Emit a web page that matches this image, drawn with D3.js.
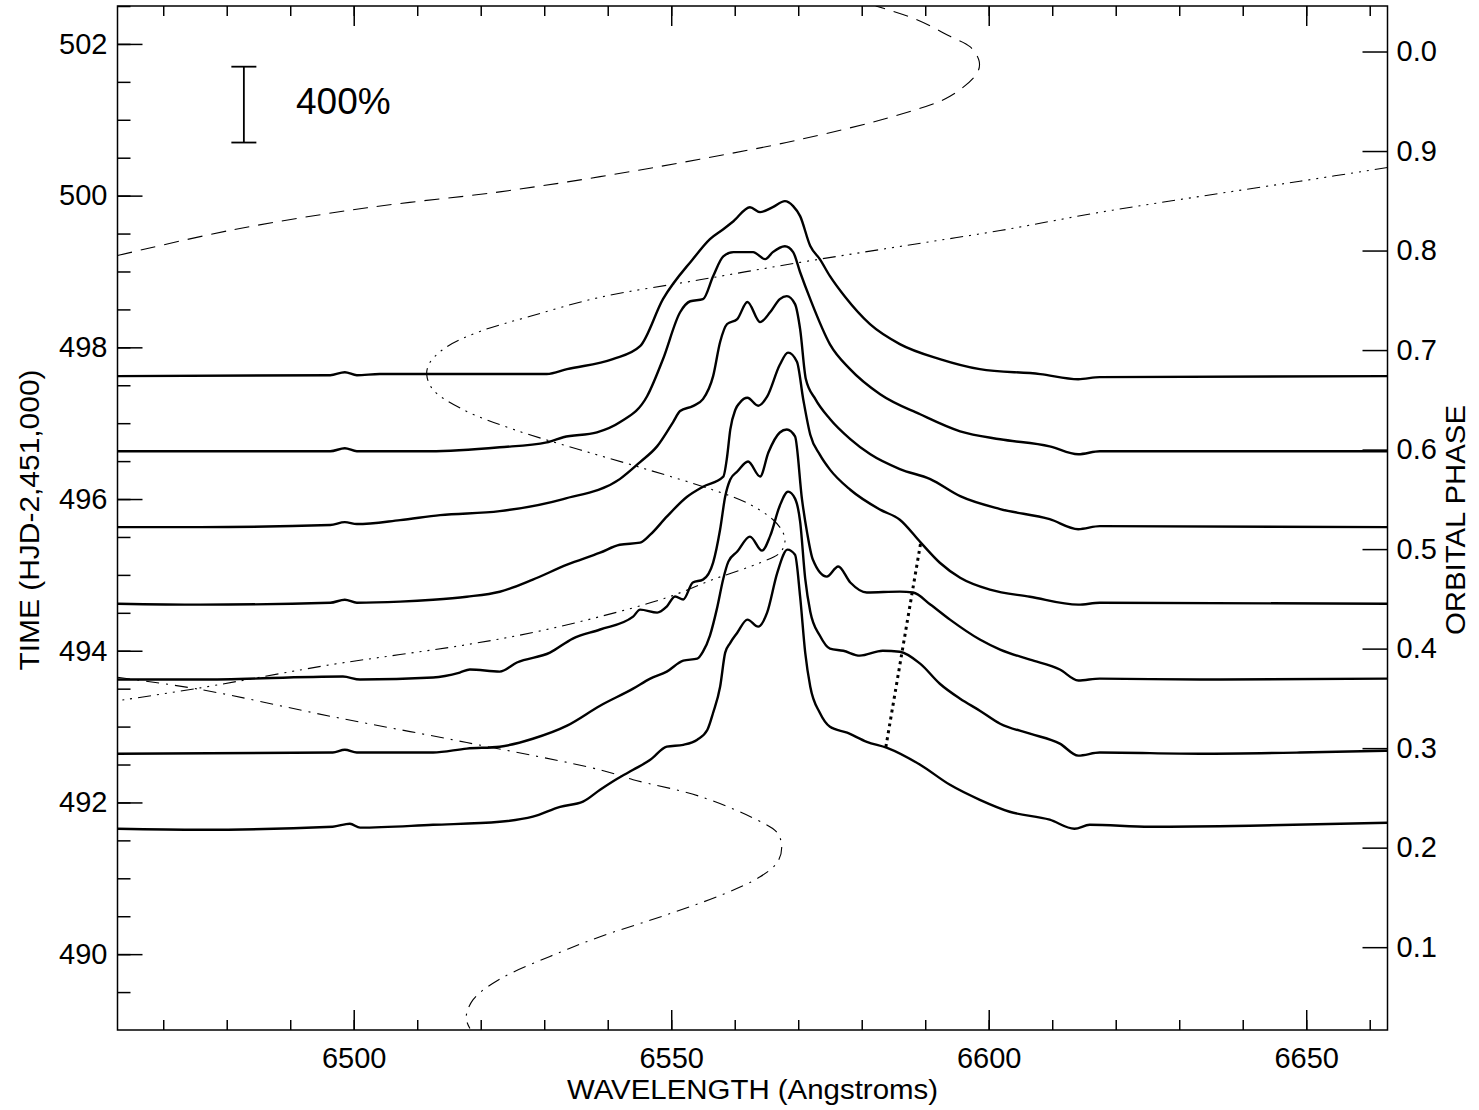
<!DOCTYPE html>
<html>
<head>
<meta charset="utf-8">
<script src="https://cdn.jsdelivr.net/npm/d3@7"></script>
<style>
  html, body { margin: 0; padding: 0; background: #fff; }
  svg { display: block; }
  text { font-family: "Liberation Sans", Arial, Helvetica, sans-serif; fill: #000; }
</style>
</head>
<body>
<svg id="chart" width="1479" height="1110"></svg>
<script>
// ---------------------------------------------------------------
// H-alpha profiles stacked by observation time (HJD-2,451,000)
// ---------------------------------------------------------------

// Axis ranges
const waveDomain = [6462.8, 6662.8];
const timeDomain = [489.0, 502.5];
const waveMajorTicks = [6500, 6550, 6600, 6650];
const waveMinorTicks = d3.range(6470, 6663, 10);
const timeMajorTicks = [490, 492, 494, 496, 498, 500, 502];
const timeMinorTicks = d3.range(489.5, 502.6, 0.5);

// Orbital ephemeris for the right-hand axis
const orbitalPeriod = 13.12;     // days
const phaseZeroTime = 501.90;    // HJD-2,451,000 at phase 0
const phaseTicks = [0.1, 0.2, 0.3, 0.4, 0.5, 0.6, 0.7, 0.8, 0.9, 1.0];
const phaseTickLabels = ["0.1", "0.2", "0.3", "0.4", "0.5", "0.6", "0.7", "0.8", "0.9", "0.0"];

// Flux scale: 400% of the continuum spans one day on the time axis
const scaleBarPercent = 400;
const scaleBarWave = 6482.7;
const scaleBarTop = 501.7;

// Observation times (continuum level of each profile)
const obsTimes = [491.64, 492.63, 493.62, 494.62, 495.63, 496.63, 497.62];

// Profiles: wavelength (Angstrom) and flux normalised to the continuum
const wave1 = [6462.8, 6475.8, 6496.7, 6499.4, 6501.0, 6512.5, 6523.0, 6528.2, 6532.5, 6536.1, 6538.8, 6541.5, 6544.0, 6546.7, 6549.3, 6551.9, 6554.1, 6555.7, 6556.6, 6557.7, 6558.5, 6559.3, 6560.4, 6562.0, 6563.7, 6565.1, 6566.7, 6568.3, 6569.5, 6570.3, 6571.1, 6571.9, 6573.4, 6575.0, 6577.7, 6580.8, 6584.0, 6589.2, 6593.9, 6598.6, 6603.3, 6609.6, 6613.5, 6615.9, 6625.4, 6641.1, 6662.8];
const flux1 = [1.05, 1.00, 1.16, 1.32, 1.11, 1.26, 1.42, 1.69, 2.21, 2.48, 3.11, 3.69, 4.16, 4.69, 5.38, 5.48, 5.75, 6.27, 7.17, 8.54, 10.34, 10.86, 11.39, 12.08, 11.71, 12.45, 14.55, 15.77, 15.50, 13.29, 10.34, 8.54, 7.17, 6.43, 6.12, 5.64, 5.32, 4.43, 3.37, 2.58, 1.95, 1.53, 1.05, 1.26, 1.16, 1.21, 1.37];

const wave2 = [6462.8, 6496.7, 6498.6, 6500.5, 6512.5, 6517.8, 6523.0, 6528.2, 6533.6, 6538.8, 6544.0, 6546.7, 6549.3, 6551.9, 6554.1, 6555.0, 6556.1, 6557.2, 6558.2, 6559.0, 6560.4, 6562.4, 6564.3, 6565.6, 6567.1, 6568.4, 6569.5, 6570.3, 6571.1, 6571.9, 6573.4, 6575.0, 6577.1, 6579.7, 6583.3, 6586.0, 6589.2, 6592.3, 6595.5, 6598.6, 6601.8, 6606.5, 6611.2, 6614.1, 6617.5, 6633.3, 6649.0, 6662.8];
const flux2 = [1.05, 1.11, 1.26, 1.11, 1.11, 1.32, 1.42, 1.84, 2.53, 3.58, 4.48, 5.01, 5.38, 5.96, 6.06, 6.43, 7.28, 8.70, 10.28, 11.18, 11.71, 12.50, 11.76, 12.55, 14.13, 14.87, 14.50, 13.29, 10.28, 8.54, 7.28, 6.59, 6.48, 6.22, 6.48, 6.43, 5.80, 4.74, 3.95, 3.32, 2.63, 2.11, 1.58, 0.95, 1.11, 1.05, 1.11, 1.21];

const wave3 = [6462.8, 6475.8, 6498.3, 6501.0, 6512.5, 6516.7, 6518.3, 6523.0, 6525.7, 6530.9, 6534.5, 6538.8, 6544.0, 6545.1, 6547.8, 6549.3, 6550.6, 6551.9, 6553.4, 6555.0, 6556.6, 6557.7, 6558.5, 6559.3, 6560.4, 6562.1, 6564.0, 6565.3, 6567.1, 6568.2, 6569.5, 6570.6, 6571.4, 6572.3, 6574.5, 6576.3, 6578.2, 6580.8, 6586.0, 6588.1, 6590.8, 6593.9, 6598.6, 6601.8, 6606.5, 6611.2, 6614.1, 6617.5, 6633.3, 6662.8];
const flux3 = [1.00, 1.00, 1.16, 1.00, 1.11, 1.37, 1.53, 1.42, 1.90, 2.42, 3.16, 3.64, 4.32, 4.69, 4.53, 4.85, 5.38, 5.22, 6.12, 6.27, 7.17, 8.91, 10.65, 11.55, 11.97, 12.50, 11.71, 12.97, 14.03, 14.19, 13.82, 10.49, 8.75, 7.33, 6.43, 6.96, 6.12, 5.59, 5.64, 5.59, 4.96, 4.16, 3.11, 2.58, 2.05, 1.53, 0.95, 1.05, 1.00, 1.05];

const wave4 = [6462.8, 6475.8, 6496.3, 6498.6, 6500.5, 6507.3, 6512.5, 6517.8, 6523.0, 6528.2, 6533.6, 6538.8, 6541.9, 6545.1, 6546.7, 6549.3, 6552.5, 6555.0, 6558.2, 6558.8, 6559.3, 6560.1, 6560.8, 6562.0, 6563.7, 6565.1, 6567.1, 6568.4, 6569.8, 6570.8, 6571.9, 6573.4, 6575.0, 6578.2, 6582.9, 6586.0, 6589.3, 6592.3, 6595.5, 6600.2, 6606.5, 6614.1, 6617.5, 6662.8];
const flux4 = [1.00, 0.95, 1.05, 1.21, 1.05, 1.11, 1.21, 1.37, 1.63, 2.27, 3.06, 3.69, 4.11, 4.22, 4.64, 5.59, 6.64, 7.17, 7.70, 8.75, 10.18, 11.23, 11.60, 11.86, 11.44, 11.92, 13.60, 14.24, 13.76, 11.76, 9.91, 8.86, 8.07, 7.01, 5.96, 5.43, 4.22, 3.16, 2.37, 1.74, 1.37, 0.95, 1.05, 1.00];

const wave5 = [6462.8, 6475.8, 6496.3, 6498.6, 6500.5, 6507.3, 6513.6, 6523.0, 6533.0, 6541.9, 6545.1, 6547.8, 6550.3, 6551.4, 6553.4, 6555.0, 6556.6, 6557.7, 6558.8, 6560.4, 6562.0, 6564.0, 6565.6, 6567.1, 6568.2, 6569.5, 6570.3, 6571.2, 6572.7, 6575.0, 6578.2, 6581.3, 6586.0, 6590.8, 6595.5, 6601.8, 6609.6, 6614.1, 6617.5, 6662.8];
const flux5 = [1.00, 1.00, 1.11, 1.26, 1.16, 1.37, 1.63, 1.84, 2.48, 3.53, 4.43, 5.27, 6.54, 7.12, 7.38, 7.75, 8.96, 10.76, 11.71, 11.97, 12.87, 11.81, 12.34, 13.02, 13.18, 12.76, 11.44, 8.81, 7.75, 6.70, 5.64, 4.85, 4.06, 3.53, 2.63, 1.95, 1.42, 0.89, 1.05, 1.00];

const wave6 = [6462.8, 6496.3, 6498.6, 6500.5, 6512.0, 6523.0, 6530.4, 6533.0, 6538.3, 6541.9, 6546.2, 6548.7, 6551.4, 6553.0, 6555.0, 6556.6, 6558.2, 6559.8, 6562.9, 6564.8, 6566.0, 6567.9, 6569.2, 6570.3, 6571.9, 6575.0, 6578.2, 6582.9, 6589.2, 6595.5, 6601.8, 6609.6, 6614.1, 6617.5, 6662.8];
const flux6 = [1.00, 1.00, 1.16, 1.00, 1.00, 1.21, 1.47, 1.74, 2.00, 2.53, 3.90, 5.85, 8.33, 8.91, 9.02, 10.23, 11.28, 11.50, 11.50, 11.13, 11.50, 11.81, 11.50, 10.44, 9.02, 6.64, 5.32, 4.01, 2.95, 2.05, 1.63, 1.26, 0.84, 1.00, 1.00];

const wave7 = [6462.8, 6496.3, 6498.6, 6500.5, 6504.1, 6530.4, 6533.6, 6540.8, 6545.1, 6548.7, 6553.4, 6556.1, 6558.2, 6559.8, 6562.4, 6564.0, 6566.0, 6567.9, 6569.2, 6570.3, 6571.9, 6573.4, 6575.0, 6577.4, 6581.3, 6586.0, 6592.3, 6598.6, 6608.1, 6614.1, 6617.5, 6662.8];
const flux7 = [1.00, 1.05, 1.21, 1.05, 1.11, 1.11, 1.37, 1.90, 2.58, 5.06, 7.17, 8.23, 8.75, 9.17, 9.91, 9.65, 9.91, 10.23, 9.97, 9.44, 7.86, 7.17, 6.27, 5.17, 3.74, 2.69, 1.90, 1.37, 1.11, 0.84, 0.95, 1.00];

// Model tracks in the (wavelength, time) plane
const dashedWave = [6462.8, 6481.0, 6502.1, 6523.0, 6538.8, 6554.5, 6570.3, 6586.0, 6593.9, 6598.2, 6598.5, 6597.1, 6593.9, 6588.7, 6582.2];
const dashedTime = [499.21, 499.55, 499.84, 500.05, 500.25, 500.48, 500.74, 501.07, 501.31, 501.62, 501.77, 501.96, 502.10, 502.32, 502.50];

const dashDot3Wave = [6662.8, 6649.0, 6633.3, 6617.5, 6601.8, 6586.0, 6570.3, 6554.5, 6538.8, 6527.8, 6519.9, 6514.7, 6512.0, 6511.5, 6512.5, 6517.2, 6525.1, 6535.6, 6546.2, 6556.6, 6561.9, 6566.0, 6567.6, 6567.9, 6567.1, 6564.0, 6556.6, 6549.3, 6538.8, 6528.2, 6517.8, 6507.3, 6496.7, 6475.8, 6462.8];
const dashDot3Time = [500.37, 500.19, 499.99, 499.78, 499.54, 499.33, 499.12, 498.89, 498.66, 498.41, 498.21, 498.01, 497.80, 497.64, 497.44, 497.18, 496.92, 496.65, 496.39, 496.12, 495.95, 495.73, 495.56, 495.43, 495.29, 495.16, 494.94, 494.70, 494.45, 494.24, 494.08, 493.95, 493.82, 493.51, 493.34];

const dashDotWave = [6462.8, 6475.8, 6496.7, 6517.8, 6538.8, 6544.0, 6554.5, 6563.5, 6566.7, 6567.4, 6566.7, 6564.0, 6558.2, 6549.3, 6538.8, 6530.9, 6523.0, 6518.8, 6517.7, 6518.3];
const dashDotTime = [493.65, 493.49, 493.13, 492.79, 492.43, 492.30, 492.08, 491.77, 491.60, 491.41, 491.21, 491.02, 490.79, 490.52, 490.23, 489.97, 489.67, 489.40, 489.16, 489.02];

// Dotted line joining the red shoulder across the profiles
const shoulderWave = [6583.8, 6589.3];
const shoulderTime = [492.73, 495.43];

// ---------------------------------------------------------------
const svg = d3.select("#chart");
const W = 1479, H = 1110;
const plot = { left: 117.5, right: 1387.5, top: 6, bottom: 1030 };

const x = d3.scaleLinear().domain(waveDomain).range([plot.left, plot.right]);
const y = d3.scaleLinear().domain(timeDomain).range([plot.bottom, plot.top]);
const toPhase = t => (t - phaseZeroTime) / orbitalPeriod + 1;
const yPhase = d3.scaleLinear()
  .domain([toPhase(timeDomain[0]), toPhase(timeDomain[1])])
  .range([plot.bottom, plot.top]);

svg.append("rect").attr("width", W).attr("height", H).attr("fill", "#fff");

svg.append("defs").append("clipPath").attr("id", "plotClip")
  .append("rect")
  .attr("x", plot.left).attr("y", plot.top)
  .attr("width", plot.right - plot.left).attr("height", plot.bottom - plot.top);

const FONT = 29;

function styleAxis(g, showLabels) {
  g.select(".domain").remove();
  g.selectAll(".tick line").attr("stroke", "#000").attr("stroke-width", 1.5);
  g.selectAll(".tick text")
    .attr("font-size", FONT)
    .attr("font-family", "Liberation Sans, Arial, sans-serif")
    .attr("fill", "#000");
  if (!showLabels) g.selectAll(".tick text").remove();
}

// Bottom axis
svg.append("g").attr("transform", `translate(0,${plot.bottom})`)
  .call(d3.axisBottom(x).tickValues(waveMinorTicks).tickSize(-10).tickFormat(""))
  .call(g => styleAxis(g, false));
svg.append("g").attr("transform", `translate(0,${plot.bottom})`)
  .call(d3.axisBottom(x).tickValues(waveMajorTicks).tickSize(-20).tickPadding(17).tickFormat(d3.format("d")))
  .call(g => styleAxis(g, true));

// Top axis (ticks only)
svg.append("g").attr("transform", `translate(0,${plot.top})`)
  .call(d3.axisTop(x).tickValues(waveMinorTicks).tickSize(-10).tickFormat(""))
  .call(g => styleAxis(g, false));
svg.append("g").attr("transform", `translate(0,${plot.top})`)
  .call(d3.axisTop(x).tickValues(waveMajorTicks).tickSize(-20).tickFormat(""))
  .call(g => styleAxis(g, false));

// Left axis
svg.append("g").attr("transform", `translate(${plot.left},0)`)
  .call(d3.axisLeft(y).tickValues(timeMinorTicks).tickSize(-13).tickFormat(""))
  .call(g => styleAxis(g, false));
svg.append("g").attr("transform", `translate(${plot.left},0)`)
  .call(d3.axisLeft(y).tickValues(timeMajorTicks).tickSize(-25).tickPadding(10).tickFormat(d3.format("d")))
  .call(g => styleAxis(g, true));

// Right axis: orbital phase
svg.append("g").attr("transform", `translate(${plot.right},0)`)
  .call(d3.axisRight(yPhase).tickValues(phaseTicks).tickSize(-25).tickPadding(9)
    .tickFormat((d, i) => phaseTickLabels[i]))
  .call(g => styleAxis(g, true));

// Frame
svg.append("rect")
  .attr("x", plot.left).attr("y", plot.top)
  .attr("width", plot.right - plot.left).attr("height", plot.bottom - plot.top)
  .attr("fill", "none").attr("stroke", "#000").attr("stroke-width", 1.5);

// Axis titles
svg.append("text")
  .attr("x", 752.5).attr("y", 1099)
  .attr("text-anchor", "middle").attr("font-size", 27)
  .attr("textLength", 371).attr("lengthAdjust", "spacingAndGlyphs")
  .text("WAVELENGTH (Angstroms)");

svg.append("text")
  .attr("transform", "translate(39,520) rotate(-90)")
  .attr("text-anchor", "middle").attr("font-size", 28)
  .attr("textLength", 301).attr("lengthAdjust", "spacingAndGlyphs")
  .text("TIME (HJD-2,451,000)");

svg.append("text")
  .attr("transform", "translate(1465,520) rotate(-90)")
  .attr("text-anchor", "middle").attr("font-size", 28)
  .attr("textLength", 230).attr("lengthAdjust", "spacingAndGlyphs")
  .text("ORBITAL PHASE");

// Plot contents
const content = svg.append("g").attr("clip-path", "url(#plotClip)");

const track = d3.line()
  .x(d => x(d[0])).y(d => y(d[1]))
  .curve(d3.curveCatmullRom.alpha(0.5));

function drawTrack(waves, times, dash) {
  content.append("path")
    .datum(waves.map((w, i) => [w, times[i]]))
    .attr("d", track)
    .attr("fill", "none")
    .attr("stroke", "#000")
    .attr("stroke-width", 1.1)
    .attr("stroke-dasharray", dash);
}

drawTrack(dashedWave, dashedTime, "15,9");
drawTrack(dashDot3Wave, dashDot3Time, "13,6,2,6,2,6,2,6");
drawTrack(dashDotWave, dashDotTime, "13,7,2,7");

// Profiles: flux above continuum converted to days (400% = 1 day)
const daysPerUnit = 100 / scaleBarPercent;
const profileLine = d3.line()
  .x(d => x(d[0])).y(d => y(d[1]))
  .curve(d3.curveMonotoneX);

const waves = [wave1, wave2, wave3, wave4, wave5, wave6, wave7];
const fluxes = [flux1, flux2, flux3, flux4, flux5, flux6, flux7];

waves.forEach((wl, k) => {
  const t0 = obsTimes[k];
  content.append("path")
    .datum(wl.map((w, i) => [w, t0 + (fluxes[k][i] - 1) * daysPerUnit]))
    .attr("d", profileLine)
    .attr("fill", "none")
    .attr("stroke", "#000")
    .attr("stroke-width", 2.4)
    .attr("stroke-linejoin", "round");
});

// Shoulder dotted line
content.append("path")
  .datum(shoulderWave.map((w, i) => [w, shoulderTime[i]]))
  .attr("d", d3.line().x(d => x(d[0])).y(d => y(d[1])))
  .attr("fill", "none")
  .attr("stroke", "#000")
  .attr("stroke-width", 3)
  .attr("stroke-dasharray", "3,4");

// Flux scale bar
const barX = x(scaleBarWave);
const barTop = y(scaleBarTop);
const barBottom = y(scaleBarTop - daysPerUnit * (scaleBarPercent / 100));
const bar = svg.append("g").attr("stroke", "#000").attr("stroke-width", 1.8);
bar.append("line").attr("x1", barX).attr("x2", barX).attr("y1", barTop).attr("y2", barBottom);
bar.append("line").attr("x1", barX - 12.5).attr("x2", barX + 12.5).attr("y1", barTop).attr("y2", barTop);
bar.append("line").attr("x1", barX - 12.5).attr("x2", barX + 12.5).attr("y1", barBottom).attr("y2", barBottom);

svg.append("text")
  .attr("x", 296).attr("y", 114)
  .attr("font-size", 37)
  .text(scaleBarPercent + "%");
</script>
</body>
</html>
